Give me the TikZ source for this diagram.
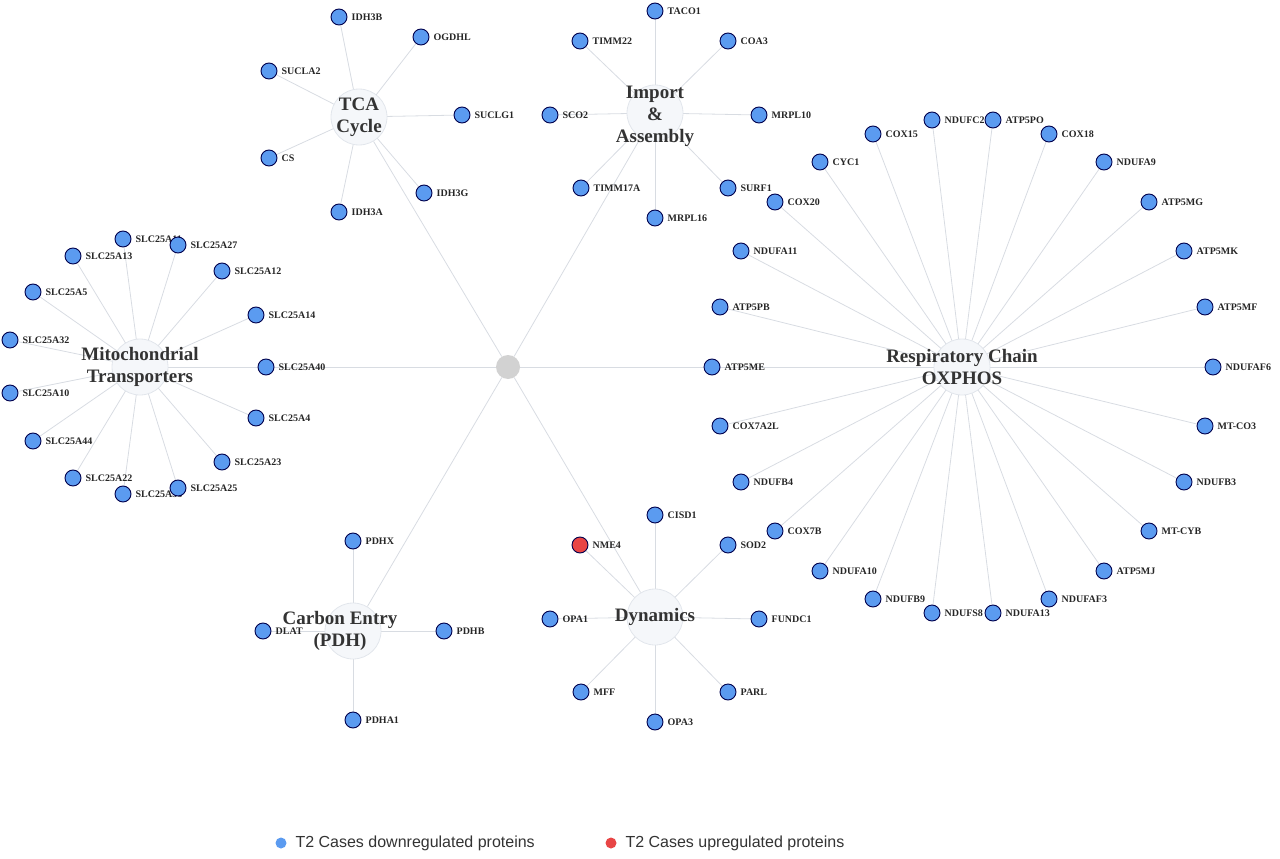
\documentclass[tikz,border=0pt]{standalone}
\usepackage{fontspec}
\setmainfont{Liberation Serif}
\newfontfamily\legendfont{Liberation Sans}
\usetikzlibrary{backgrounds}
\definecolor{leafblue}{HTML}{5B9BF0}
\definecolor{leafred}{HTML}{E84545}
\definecolor{edgecol}{HTML}{D8DCE2}
\definecolor{ringcol}{HTML}{E2E6EC}
\definecolor{hubfill}{HTML}{F5F7FA}
\begin{document}
\begin{tikzpicture}[x=1pt,y=-1pt,
  leaf/.style={circle,fill=leafblue,draw=black!70!blue,line width=0.9pt,minimum size=16pt,inner sep=0pt},
  up/.style={leaf,fill=leafred},
  lab/.style={anchor=west,font=\fontsize{10}{12}\selectfont\bfseries,text=black!85,inner sep=0pt,xshift=4pt},
  hubc/.style={circle,fill=hubfill,draw=ringcol,line width=0.8pt,minimum size=56pt,inner sep=0pt},
  clab/.style={align=center,font=\fontsize{19}{22}\selectfont\bfseries,text=black!80},
  edge/.style={draw=edgecol,line width=0.8pt}]
\useasboundingbox (0,0) rectangle (1280,859);
\node[circle,fill=gray!35,minimum size=24pt,inner sep=0pt] (hub) at (508,367) {};
\node[hubc] (tca) at (359,117) {};
\node[hubc] (imp) at (655,113) {};
\node[hubc] (mt) at (140,367) {};
\node[hubc] (ox) at (962,367) {};
\node[hubc] (pdh) at (353,631) {};
\node[hubc] (dyn) at (655,617) {};
\begin{pgfonlayer}{background}
\foreach \c in {tca,imp,mt,ox,pdh,dyn} \draw[edge] (hub) -- (\c);
\end{pgfonlayer}
\newcommand{\leafs}[2]{%
  \foreach \n/\x/\y in {#2} {
    \node[leaf] (L\n) at (\x,\y) {};
    \node[lab] at (L\n.east) {\n};
    \begin{pgfonlayer}{background}\draw[edge] (#1.center) -- (L\n);\end{pgfonlayer}
  }}
\leafs{tca}{IDH3B/339/17,OGDHL/421/37,SUCLA2/269/71,SUCLG1/462/115,CS/269/158,IDH3G/424/193,IDH3A/339/212}
\leafs{imp}{TACO1/655/11,TIMM22/580/41,COA3/728/41,SCO2/550/115,MRPL10/759/115,TIMM17A/581/188,SURF1/728/188,MRPL16/655/218}
\leafs{mt}{SLC25A11/123/239,SLC25A27/178/245,SLC25A13/73/256,SLC25A12/222/271,SLC25A5/33/292,SLC25A14/256/315,SLC25A32/10/340,SLC25A40/266/367,SLC25A10/10/393,SLC25A4/256/418,SLC25A44/33/441,SLC25A23/222/462,SLC25A22/73/478,SLC25A36/123/494,SLC25A25/178/488}
\leafs{ox}{NDUFC2/932/120,ATP5PO/993/120,COX15/873/134,COX18/1049/134,CYC1/820/162,NDUFA9/1104/162,COX20/775/202,ATP5MG/1149/202,NDUFA11/741/251,ATP5MK/1184/251,ATP5PB/720/307,ATP5MF/1205/307,ATP5ME/712/367,NDUFAF6/1213/367,COX7A2L/720/426,MT-CO3/1205/426,NDUFB4/741/482,NDUFB3/1184/482,COX7B/775/531,MT-CYB/1149/531,NDUFA10/820/571,ATP5MJ/1104/571,NDUFB9/873/599,NDUFAF3/1049/599,NDUFS8/932/613,NDUFA13/993/613}
\leafs{pdh}{PDHX/353/541,DLAT/263/631,PDHB/444/631,PDHA1/353/720}
\leafs{dyn}{CISD1/655/515,SOD2/728/545,OPA1/550/619,FUNDC1/759/619,MFF/581/692,PARL/728/692,OPA3/655/722}
\node[up] (LNME4) at (580,545) {};
\node[lab] at (LNME4.east) {NME4};
\begin{pgfonlayer}{background}\draw[edge] (dyn.center) -- (LNME4);\end{pgfonlayer}
\node[clab] at (359,117) {TCA\\Cycle};
\node[clab] at (655,116) {Import\\\&\\Assembly};
\node[clab] at (140,367) {Mitochondrial\\Transporters};
\node[clab] at (962,367) {Respiratory Chain\\OXPHOS};
\node[clab] at (340,631) {Carbon Entry\\(PDH)};
\node[clab] at (655,617) {Dynamics};
\node[circle,fill=leafblue,minimum size=11pt,inner sep=0pt] (lg1) at (281,843) {};
\node[anchor=west,font=\legendfont\fontsize{16}{18}\selectfont,text=black!80] (lt1) at (292,843) {T2 Cases downregulated proteins};
\node[circle,fill=leafred,minimum size=11pt,inner sep=0pt] (lg2) at (611,843) {};
\node[anchor=west,font=\legendfont\fontsize{16}{18}\selectfont,text=black!80] (lt2) at (622,843) {T2 Cases upregulated proteins};
\end{tikzpicture}
\end{document}
